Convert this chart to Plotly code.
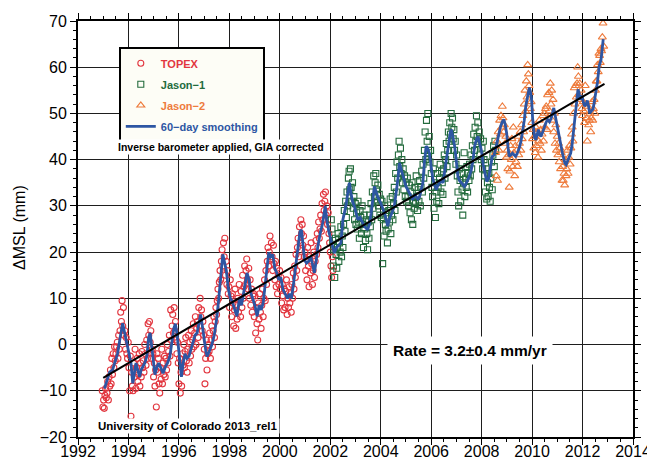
import plotly.graph_objects as go

# ---------------- data ----------------
CYCLE_YR = 9.9156 / 365.25          # altimeter repeat cycle (years)
TOPEX_START = 1992.96
JASON1_START = 2002.04
JASON2_START = 2008.55

TOPEX_MM = [
    -10, -13.5, -12, -13.8, -11, -9.5, -11.5, -10.5, -8, -12, -7, -9, -5.5, -8.5, -3, -6.5, -2, -5, -0.5, -3.5,
    -2, -0.5, 0.5, -3, 2, -1, 3, 7, 5, 9.5, 4, 8, 2, 3, -1, 1.5, -2,
    -3, 0.5, -5, -10, -2.5, -15.5, -6, -9, -10, -4, -7, -1, -9.5, -5, -3, -8, -6.5, -2, -9, -4,
    -7, -1.5, -5, -3.5, -6, 0, -2, -4.5, 1, -3, 4.5, 2, 5, 0.5, 3, -3, -1,
    -2, -7, -4, -9, -5.5, -13.5, -2, -6, -3, -8.5, -10.5, -5, -7.5, -1, -8.5, -4, -6.5, -2.5, -7, -3,
    -5.5, 0, -4, -1.5, 2, -2.5, 7.5, 1, 4, 6.5, 2.5, 8, 3, 5, 1, -2, 0.5,
    -4, -8.5, -3, -10.5, -6, -9, -2, -4.5, 0, -5, -1.5, 1.5, -3.5, -6, -1, 2, -4, 0.5, -2.5, 3,
    -1, 1, 4.5, -0.5, 2.5, 6, 0, 3.5, 5, 1.5, 8, 4, 10, 6, 7.5, 3, 5,
    2, -1, -8.5, -3, 1, -5.5, -2, 0, -1.5, 2.5, -3, 1, 4, -0.5, 3, 6, 1.5, 5, 8, 6.5,
    9.5, 12, 10, 13.5, 16, 14, 18, 20.5, 17, 22, 19, 23, 15, 18, 13, 16, 11,
    12.5, 8, 14, 10.5, 6, 11, 9, 4, 7.5, 12, 3.5, 8.5, 5.5, 10, 7, 13, 9.5, 6, 11.5, 8,
    15, 10, 12.5, 17, 13, 16, 18.5, 14, 12, 16.5, 10, 14, 8.5, 12, 7, 10.5, 11,
    6, 10.5, 2.5, 8, 4.5, 1, 9, 5.5, 11, 7, 3.5, 8.5, 12, 6, 10, 14, 9.5, 16, 13, 18,
    21, 17, 20, 23.5, 18.5, 22, 19, 16, 21.5, 17.5, 14, 18, 12.5, 16.5, 11, 15, 13,
    16, 12, 14.5, 9, 13, 10.5, 7.5, 12, 8, 11.5, 14, 6.5, 10, 8, 12.5, 9, 11, 7, 13, 10,
    15.5, 12, 17, 14.5, 19.5, 16, 21, 23, 19, 25.5, 22, 27, 24, 26, 21.5, 23.5, 19,
    20, 16, 18.5, 14, 21, 17, 12.5, 19, 15.5, 22, 17.5, 13, 16, 20, 14.5, 18, 22.5, 19.5, 24, 21,
    26.5, 23, 25, 28, 24.5, 30.5, 27, 32.5, 29, 31, 33, 28, 30, 26, 28.5, 24, 22,
    20, 17, 14.5, 19, 16,
]

JASON1_MM = [
    27, 25, 22.5, 17, 20.5, 14.5, 23, 19.5, 16.5, 21, 24, 18, 22, 20, 25.5, 19, 23.5, 21, 26, 29,
    24.5, 31, 27.5, 33, 30, 36, 37.5, 33.5, 38, 34, 31, 35, 29.5, 32, 27, 30.5, 26,
    28.5, 25, 31, 26.5, 23, 29, 27.5, 24, 30, 26, 21, 28, 25, 22.5, 27, 24, 20.5, 26.5, 23, 28,
    25.5, 30.5, 27, 33, 29.5, 36.5, 32, 35, 37, 33.5, 31, 34.5, 30, 32.5, 28, 31.5, 27.5,
    31, 17.5, 27, 23.5, 30, 26, 24.5, 28.5, 22, 25, 29, 26.5, 31.5, 24, 28, 32, 27, 30.5, 34, 29,
    37, 33, 39.5, 36, 41, 44, 38.5, 42.5, 37, 40, 35, 38, 33.5, 36.5, 32, 35, 31,
    36, 32, 30, 34.5, 28.5, 33, 27, 35, 26, 31, 29.5, 34, 30.5, 36.5, 32, 29, 33.5, 31, 35.5, 30,
    34, 37.5, 33, 39, 36, 42, 46, 40, 48.5, 44, 50, 41.5, 45, 39.5, 42, 37, 34,
    32, 38, 29.5, 35, 27.5, 33, 31, 37, 34, 30.5, 36, 39, 33, 37.5, 35, 32.5, 38, 41, 36, 40,
    43.5, 38.5, 42, 46, 44, 48, 45.5, 50, 47, 49, 44.5, 46.5, 42, 44, 39, 41, 36.5,
    33, 30, 38, 35.5, 31, 37, 33.5, 28, 35, 41.5, 32, 36, 34, 38.5, 33, 37, 35.5, 39, 36.5, 41,
    38, 43, 40, 45.5, 42, 47, 44, 49.5, 45, 48, 43.5, 46, 41, 44.5, 40, 42.5, 38,
    44, 40, 36.5, 33, 38, 31.5, 35, 32, 37, 34, 31, 36, 39.5, 33.5, 41, 43, 38.5, 44, 42,
]

JASON2_MM = [
    41.5, 36.5, 44, 35.5, 46, 42, 48.5, 45.5, 49.5, 47, 51.5, 49, 46, 47.5, 43.5, 45, 40.5, 42, 38, 41,
    34, 37.5, 43, 40, 44.5, 38.5, 47, 41.5, 36.5, 43, 39.5, 42, 38.5, 45, 41, 43.5, 46,
    42, 47.5, 44.5, 49.5, 46, 52, 55, 50.5, 57, 53.5, 60.5, 58.5, 56, 54.5, 51, 52.5, 48, 44.5, 46.5, 42.5,
    45, 41.5, 47, 43, 46, 40.5, 44, 48.5, 43.5, 46.5, 42, 45.5, 49.5, 44, 50, 47, 51,
    51.5, 46.5, 54, 49, 54.5, 50.5, 56.5, 52, 55, 48.5, 53, 46, 50, 43.5, 47.5, 42, 45, 41, 43.5, 39.5,
    42.5, 38, 41.5, 35.5, 38.5, 35.5, 37, 34.5, 40, 36.5, 38, 42, 37, 40.5, 43, 39, 42.5,
    45.5, 47, 44, 50, 55.5, 52, 56, 53.5, 56.5, 60, 58, 54, 56.5, 53, 55, 51, 49.5, 52.5, 50.5, 48,
    56, 52, 49, 44, 51.5, 47.5, 48.5, 50, 46, 49, 52.5, 48.5, 51, 53, 50, 55, 57,
    57, 60.5, 59, 63, 62.5, 61, 64, 63.5, 66.5, 69.5, 64.5,
]

SMOOTH = [
    (1993.05, -9.5), (1993.15, -7.5), (1993.25, -6), (1993.37, -5.5), (1993.47, -3.5), (1993.57, -1.9),
    (1993.67, 1.5), (1993.77, 4.6), (1993.85, 2.5), (1993.93, 0.5), (1994.02, -2), (1994.10, -4),
    (1994.17, -8.4), (1994.24, -5.5), (1994.30, -4), (1994.37, -5.5), (1994.44, -7), (1994.50, -5.5),
    (1994.57, -4.8), (1994.65, -4), (1994.73, -2.5), (1994.80, 1.5), (1994.86, 2.5), (1994.93, -1),
    (1995.00, -4.5), (1995.05, -6.5), (1995.12, -5), (1995.20, -4), (1995.28, -5), (1995.37, -6.2),
    (1995.45, -5), (1995.55, -4), (1995.64, -2.6), (1995.72, 0.5), (1995.80, 3.5), (1995.86, 4.5),
    (1995.92, 2.5), (1996.00, -1.5), (1996.06, -5), (1996.10, -7), (1996.17, -4), (1996.24, -2),
    (1996.32, -3), (1996.40, -2.5), (1996.48, -1), (1996.56, 0.5), (1996.64, 2), (1996.72, 2.5),
    (1996.80, 5), (1996.86, 6.5), (1996.93, 4), (1997.00, 1), (1997.07, -1.5), (1997.12, -2.6),
    (1997.20, -1.5), (1997.30, -0.1), (1997.40, 2), (1997.50, 5.7), (1997.58, 10), (1997.66, 15),
    (1997.74, 19.5), (1997.80, 18), (1997.88, 16), (1997.96, 12), (1998.04, 10), (1998.10, 9.5),
    (1998.20, 7.5), (1998.30, 6.1), (1998.40, 10), (1998.48, 8.5), (1998.56, 11), (1998.64, 14),
    (1998.70, 15.5), (1998.78, 14), (1998.86, 11), (1998.94, 9.7), (1999.02, 8.3), (1999.10, 6.1),
    (1999.18, 8.5), (1999.26, 7.5), (1999.34, 9), (1999.42, 13), (1999.50, 17.5), (1999.56, 19.9),
    (1999.64, 19), (1999.72, 19.5), (1999.80, 16.5), (1999.88, 15.5), (1999.96, 14), (2000.04, 14.5),
    (2000.12, 12), (2000.20, 11), (2000.30, 10), (2000.38, 11), (2000.46, 10), (2000.54, 13),
    (2000.64, 17.7), (2000.72, 21), (2000.80, 24.5), (2000.86, 24.8), (2000.92, 21), (2000.98, 18.3),
    (2001.06, 17.6), (2001.14, 18), (2001.23, 19), (2001.30, 17), (2001.37, 15.5), (2001.44, 18),
    (2001.50, 21), (2001.60, 24), (2001.70, 26.3), (2001.80, 30), (2001.86, 27), (2001.94, 24.5),
    (2002.03, 22.7), (2002.10, 21), (2002.16, 19.8), (2002.25, 21), (2002.34, 21.5), (2002.42, 22),
    (2002.50, 27), (2002.56, 28.5), (2002.62, 30), (2002.70, 33), (2002.76, 35), (2002.82, 32.8),
    (2002.88, 31), (2002.95, 30), (2003.02, 28.5), (2003.09, 27), (2003.18, 27.5), (2003.26, 26.5),
    (2003.35, 25.6), (2003.48, 24.8), (2003.55, 26), (2003.62, 28.4), (2003.68, 31), (2003.75, 34.2),
    (2003.82, 33), (2003.88, 32), (2004.00, 30.6), (2004.08, 29.5), (2004.15, 28.4), (2004.22, 27),
    (2004.28, 25.6), (2004.36, 27.5), (2004.45, 28.5), (2004.54, 30), (2004.62, 33), (2004.68, 35.7),
    (2004.74, 39.3), (2004.80, 38), (2004.87, 36.4), (2004.94, 35.5), (2005.00, 34.2), (2005.07, 33.5),
    (2005.14, 32.8), (2005.20, 32), (2005.27, 31.3), (2005.34, 32.5), (2005.40, 32), (2005.47, 31.5),
    (2005.54, 32), (2005.60, 33.5), (2005.67, 35), (2005.73, 39.3), (2005.80, 42.9), (2005.86, 42.5),
    (2005.93, 41.4), (2006.00, 38.5), (2006.07, 35.7), (2006.14, 34.5), (2006.20, 33.5), (2006.27, 34.5),
    (2006.33, 35), (2006.40, 35.5), (2006.47, 35), (2006.54, 37.5), (2006.60, 40.7), (2006.68, 43.5),
    (2006.76, 46), (2006.80, 46.5), (2006.86, 45), (2006.93, 42.9), (2007.00, 39.5), (2007.06, 36.4),
    (2007.12, 35.5), (2007.19, 35), (2007.26, 34.5), (2007.32, 34.2), (2007.40, 35), (2007.46, 35.7),
    (2007.52, 36.5), (2007.59, 37.8), (2007.66, 40), (2007.72, 42.9), (2007.80, 44.5), (2007.86, 45),
    (2007.93, 43.5), (2007.99, 42), (2008.06, 39), (2008.12, 37), (2008.20, 35.3), (2008.28, 36),
    (2008.36, 38.5), (2008.42, 40.7), (2008.50, 41), (2008.58, 43), (2008.66, 45.5), (2008.75, 47.2),
    (2008.82, 48.2), (2008.88, 48.7), (2008.94, 47.5), (2008.99, 45.8), (2009.04, 43), (2009.09, 40.7),
    (2009.16, 41), (2009.22, 41.4), (2009.29, 41), (2009.35, 40.7), (2009.42, 41.5), (2009.49, 42.5),
    (2009.56, 44), (2009.62, 45.8), (2009.69, 48.5), (2009.75, 51.6), (2009.82, 54), (2009.89, 55.6),
    (2009.94, 54.5), (2009.98, 53), (2010.02, 49), (2010.06, 45.8), (2010.10, 44.8), (2010.15, 44.3),
    (2010.20, 45.5), (2010.25, 46.5), (2010.30, 45.5), (2010.35, 45), (2010.42, 46), (2010.48, 47.2),
    (2010.55, 48), (2010.62, 48.7), (2010.69, 48.2), (2010.76, 49), (2010.82, 50.5), (2010.86, 51.2),
    (2010.90, 50), (2010.95, 48.7), (2011.00, 47.5), (2011.05, 45.8), (2011.10, 44.5), (2011.15, 42.9),
    (2011.20, 41.5), (2011.26, 40), (2011.30, 39.2), (2011.35, 38.9), (2011.40, 39.5), (2011.46, 40.5),
    (2011.53, 41.4), (2011.58, 43), (2011.62, 45), (2011.68, 48), (2011.73, 50.9), (2011.78, 53.5),
    (2011.82, 55.2), (2011.86, 54.5), (2011.90, 53), (2011.94, 53.5), (2011.98, 53.8), (2012.03, 52.5),
    (2012.08, 51.6), (2012.14, 52), (2012.19, 52.8), (2012.24, 51.5), (2012.28, 50.1), (2012.35, 50.5),
    (2012.42, 51), (2012.48, 53), (2012.54, 55), (2012.59, 56.7), (2012.66, 60.3), (2012.70, 61),
    (2012.73, 61.5), (2012.78, 64), (2012.82, 66.1),
]

TREND_YEAR = [1993.0, 2012.87]
TREND_MM = [-7.2, 56.4]

X_TICKS = list(range(1992, 2015, 2))
Y_TICKS = list(range(-20, 71, 10))

# ---------------- derived ----------------
def cycle_times(start, n):
    return [start + i * CYCLE_YR for i in range(n)]

topex_t = cycle_times(TOPEX_START, len(TOPEX_MM))
jason1_t = cycle_times(JASON1_START, len(JASON1_MM))
jason2_t = cycle_times(JASON2_START, len(JASON2_MM))
smooth_t = [p[0] for p in SMOOTH]
smooth_v = [p[1] for p in SMOOTH]

RED = "#e2363f"
GREEN = "#236b3d"
ORANGE = "#ee7b3c"
BLUE = "#2d56a3"
FONT = "Liberation Sans, Arial, Helvetica, sans-serif"

fig = go.Figure()
fig.add_trace(go.Scatter(
    x=topex_t, y=TOPEX_MM, mode="markers",
    name=f'<b><span style="color:{RED}">TOPEX</span></b>',
    marker=dict(symbol="circle-open", size=6, color=RED, line=dict(width=1.1)),
    legendgroup="a"))
fig.add_trace(go.Scatter(
    x=jason1_t, y=JASON1_MM, mode="markers",
    name=f'<b><span style="color:{GREEN}">Jason−1</span></b>',
    marker=dict(symbol="square-open", size=6, color=GREEN, line=dict(width=1.1)),
    legendgroup="b"))
fig.add_trace(go.Scatter(
    x=jason2_t, y=JASON2_MM, mode="markers",
    name=f'<b><span style="color:{ORANGE}">Jason−2</span></b>',
    marker=dict(symbol="triangle-up-open", size=7, color=ORANGE, line=dict(width=1.1)),
    legendgroup="c"))
fig.add_trace(go.Scatter(
    x=smooth_t, y=smooth_v, mode="lines",
    name=f'<b><span style="color:{BLUE}">60−day smoothing</span></b>',
    line=dict(color=BLUE, width=2.8),
    legendgroup="d"))
fig.add_trace(go.Scatter(
    x=TREND_YEAR, y=TREND_MM, mode="lines", showlegend=False,
    line=dict(color="black", width=2)))

axis_common = dict(
    showline=True, linecolor="black", linewidth=1.8, mirror="ticks",
    ticks="outside", ticklen=6, tickwidth=1.3, tickcolor="black",
    showgrid=True, gridcolor="#1e1e1e", gridwidth=1, zeroline=False,
    automargin=False,
    tickfont=dict(family=FONT, size=16, color="black"),
)

# The page body has an 8 px default margin, so the figure is 8 px smaller
# than the window and the margins are reduced by 8 px at the top/left.
fig.update_layout(
    width=647, height=453,
    margin=dict(l=70, r=22, t=13, b=24, autoexpand=False),
    paper_bgcolor="white", plot_bgcolor="white",
    font=dict(family=FONT, color="black"),
    xaxis=dict(range=[1992, 2014], tickvals=X_TICKS, ticklabelstandoff=-7,
               minor=dict(dtick=0.5, ticks="outside", ticklen=3, tickcolor="black", tickwidth=1, showgrid=False),
               **axis_common),
    yaxis=dict(range=[-20, 70], tickvals=Y_TICKS,
               minor=dict(dtick=2, ticks="outside", ticklen=3, tickcolor="black", tickwidth=1, showgrid=False),
               **axis_common),
    legend=dict(
        x=(119 - 78) / 555, y=1 - (47 - 21) / 416, xanchor="left", yanchor="top",
        bgcolor="#fdfdf6", bordercolor="black", borderwidth=1.8,
        font=dict(family=FONT, size=11), traceorder="grouped", tracegroupgap=2,
        itemwidth=30,
    ),
    showlegend=True,
)

annotations = [
    dict(text="<b>Inverse barometer applied, GIA corrected</b>", x=(116 - 78) / 555, y=1 - (147 - 21) / 416,
         xanchor="left", yanchor="middle", font=dict(size=10.5, color="black", family=FONT),
         bgcolor="white", borderpad=1),
    dict(text="<b>University of Colorado 2013_rel1</b>", x=(96 - 78) / 555, y=1 - (426 - 21) / 416,
         xanchor="left", yanchor="middle", font=dict(size=11.5, color="black", family=FONT),
         bgcolor="white", borderpad=1),
    dict(text="<b>Rate = 3.2±0.4 mm/yr</b>", x=(470 - 78) / 555, y=1 - (350 - 21) / 416,
         xanchor="center", yanchor="middle", font=dict(size=15.5, color="black", family=FONT),
         bgcolor="white", borderpad=5),
    dict(text="ΔMSL (mm)", x=(19 - 78) / 555, y=1 - (228 - 21) / 416, textangle=-90,
         xanchor="center", yanchor="middle", font=dict(size=16, color="black", family=FONT)),
]
for a in annotations:
    a.update(xref="paper", yref="paper", showarrow=False)
fig.update_layout(annotations=annotations)

fig.write_html("out.html")
